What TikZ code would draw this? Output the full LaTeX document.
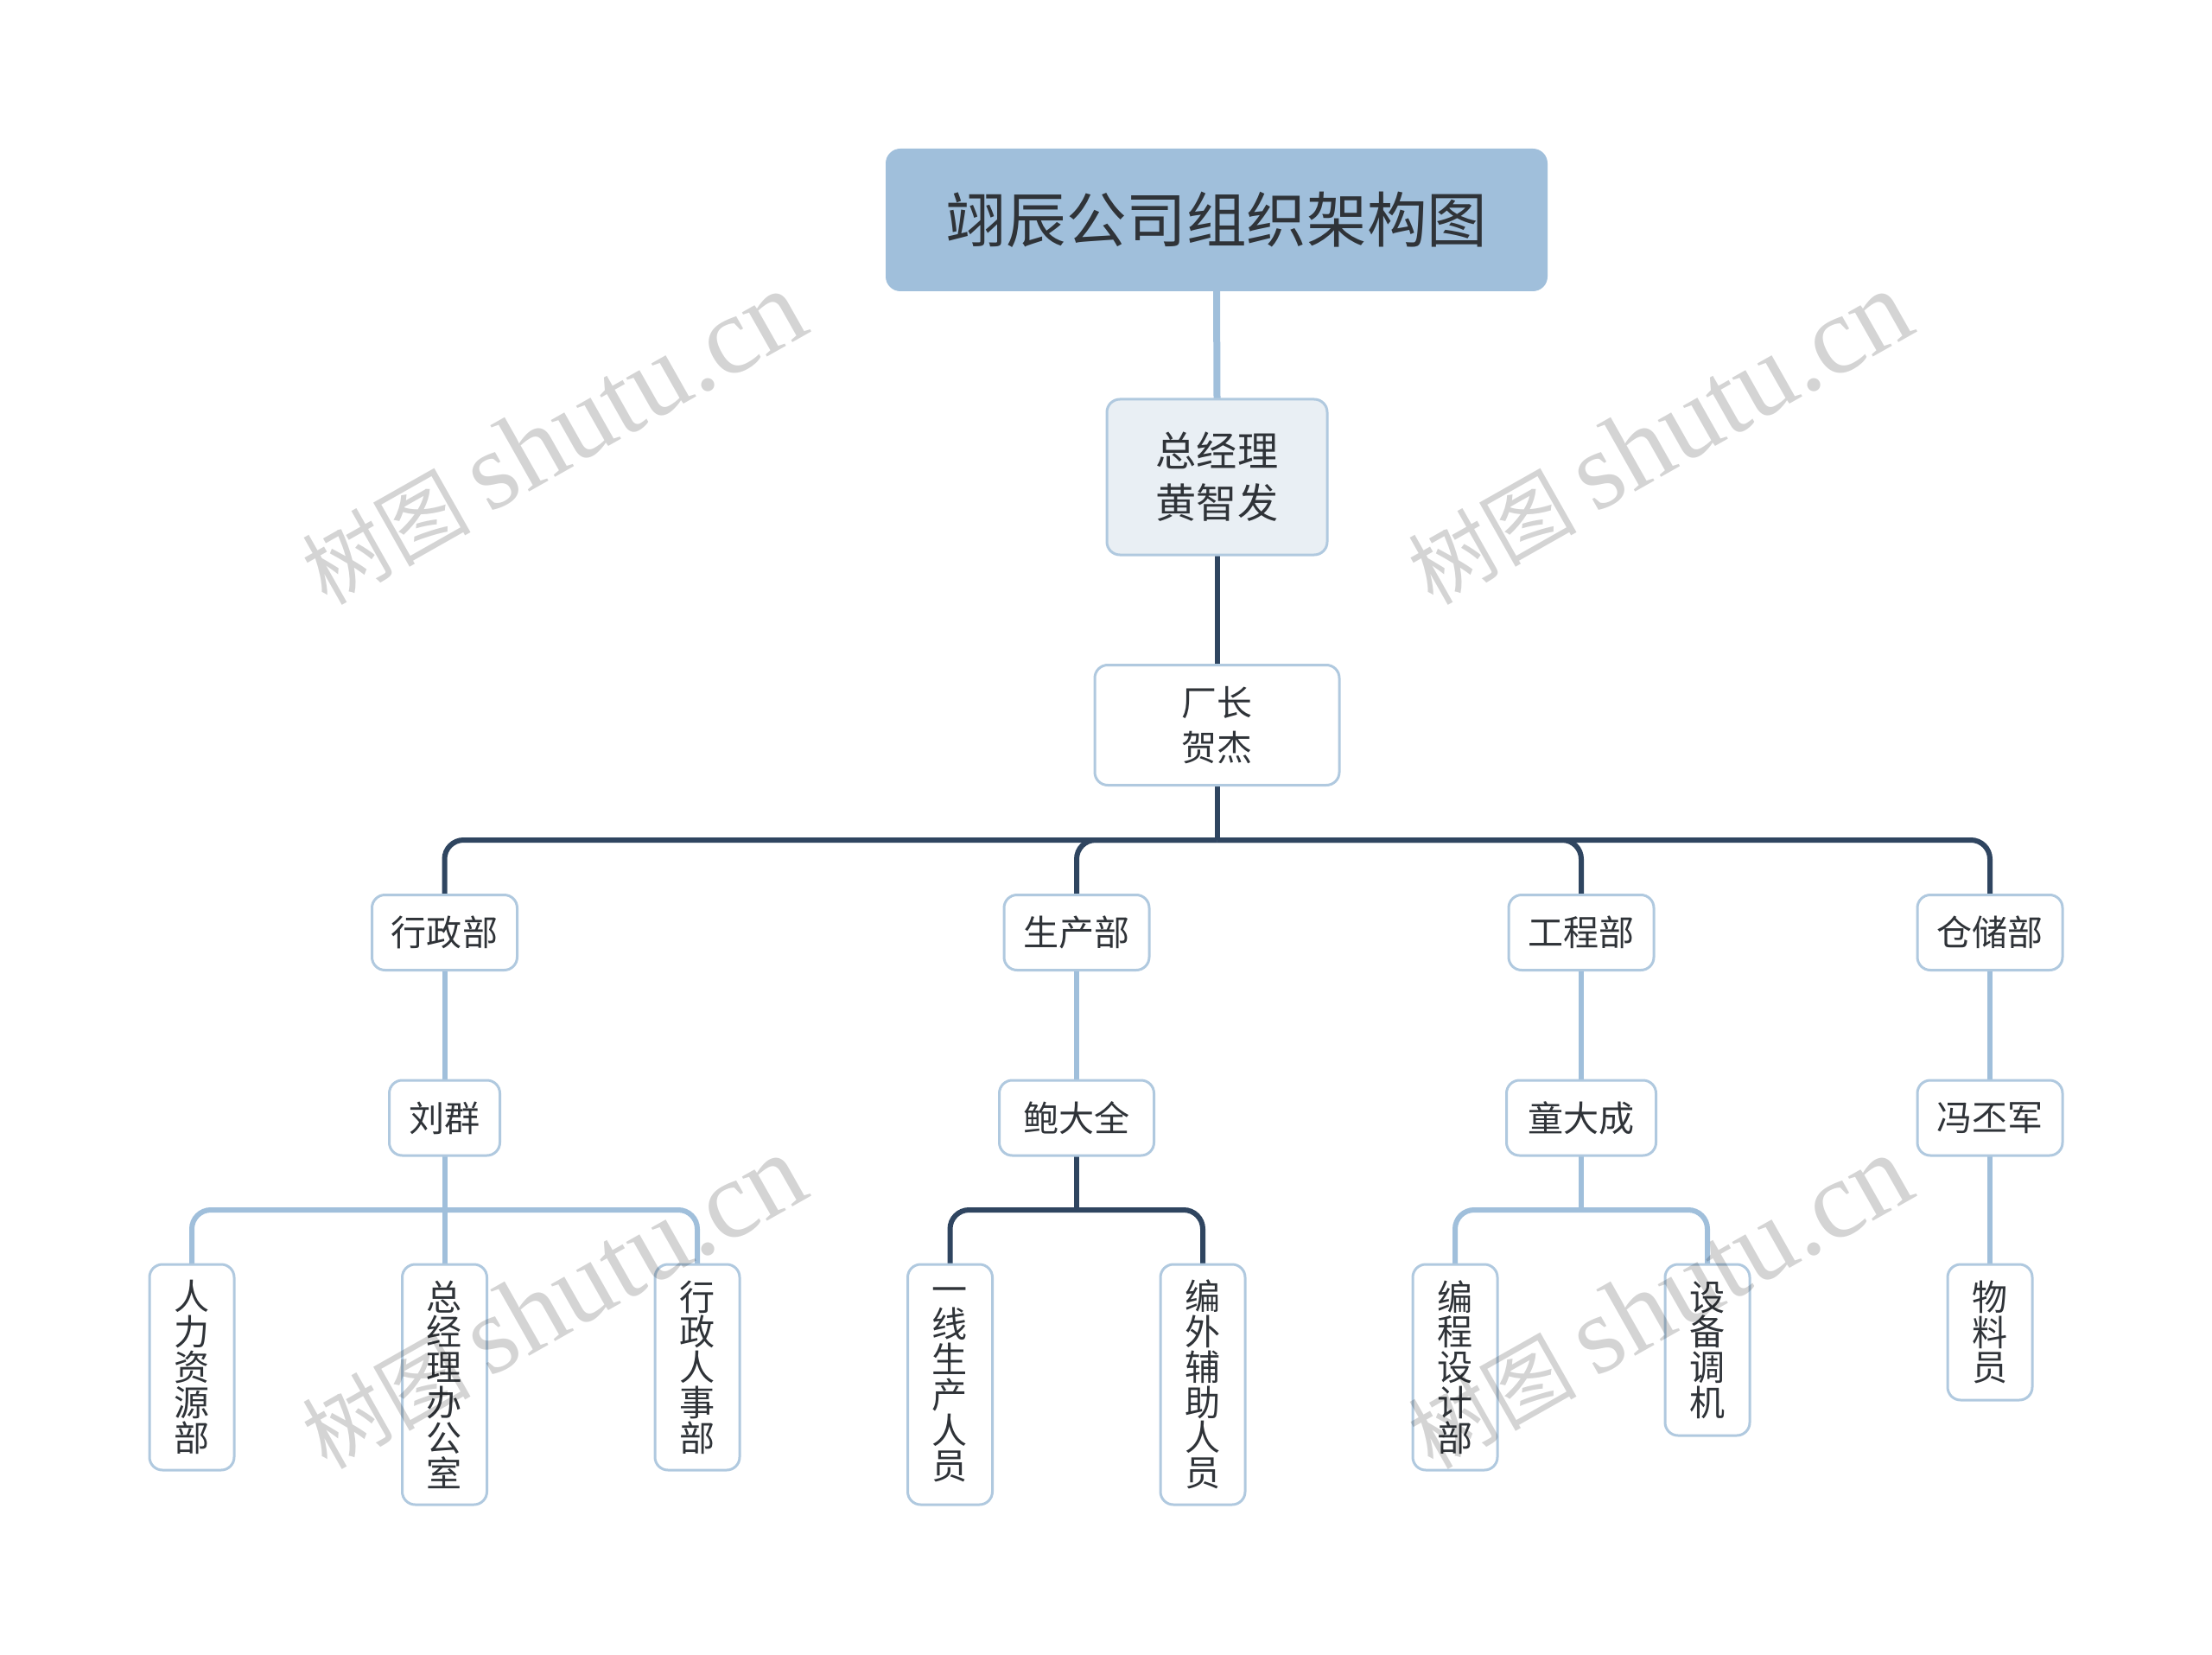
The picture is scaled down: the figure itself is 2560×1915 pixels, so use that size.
\documentclass[tikz,border=0pt]{standalone}
\usepackage{fontspec}
\usetikzlibrary{backgrounds}
\setmainfont{Noto Sans CJK SC}
\newfontfamily\wmlatin{Liberation Serif}
\newfontfamily\wmcjk{Noto Sans CJK SC}
\lineskiplimit=-1000pt
\def\px{0.75pt}
\newcommand{\wmtext}{\wmcjk\fontsize{73pt}{73pt}\selectfont 树图 \wmlatin\fontsize{96pt}{96pt}\selectfont shutu.cn}
\definecolor{inkc}{HTML}{2F3338}
\definecolor{lightc}{HTML}{A0BFDB}
\definecolor{darkc}{HTML}{2F4560}
\definecolor{edgec}{HTML}{B0C9DF}
\definecolor{palec}{HTML}{E9EFF4}
\tikzset{
  basebox/.style={draw=edgec,line width=3*\px,rounded corners=15*\px,fill=white,text=inkc,inner sep=0pt,outer sep=0pt,align=center},
  titlebox/.style={basebox,draw=none,fill=lightc,rounded corners=17*\px,minimum width=766*\px,minimum height=165*\px,font=\fontsize{52.2pt}{60pt}\selectfont},
  gmbox/.style={basebox,fill=palec,minimum width=255*\px,minimum height=180*\px,font=\fontsize{35.4pt}{45pt}\selectfont},
  fmbox/.style={basebox,minimum width=283*\px,minimum height=139*\px,font=\fontsize{30.7pt}{39pt}\selectfont},
  midbox/.style={basebox,minimum height=87*\px,font=\fontsize{30.8pt}{36pt}\selectfont},
  leafbox/.style={basebox,minimum width=98*\px,font=\fontsize{30.8pt}{30.6pt}\selectfont},
  lightline/.style={draw=lightc,line width=6*\px,rounded corners=22*\px},
  darkline/.style={draw=darkc,line width=6*\px,rounded corners=22*\px},
  wmark/.style={text=black,text opacity=0.17,rotate=29.5,inner sep=0pt}
}
\begin{document}
\begin{tikzpicture}[x=0.75pt,y=-0.75pt]
\useasboundingbox (0,0) rectangle (2560,1915);
\node[titlebox] (root) at (1408,254.5) {翊辰公司组织架构图};
\node[gmbox] (gm) at (1408.5,552) {总经理\\黄智发};
\node[fmbox] (fm) at (1408.5,839) {厂长\\贺杰};
\node[midbox,minimum width=168*\px] (dxz) at (514.5,1079) {行政部};
\node[midbox,minimum width=168*\px] (dsc) at (1246,1079) {生产部};
\node[midbox,minimum width=168*\px] (dgc) at (1830,1079) {工程部};
\node[midbox,minimum width=168*\px] (dcc) at (2303,1079) {仓储部};
\node[midbox,minimum width=128*\px] (mlq) at (514.5,1293.5) {刘群};
\node[midbox,minimum width=179*\px] (mbd) at (1246,1293.5) {鲍大全};
\node[midbox,minimum width=173*\px] (mtd) at (1830,1293.5) {童大成};
\node[midbox,minimum width=168*\px] (mfp) at (2303,1293.5) {冯丕军};
\node[leafbox,minimum height=238*\px] (l1) at (222,1582) {人\\力\\资\\源\\部};
\node[leafbox,minimum height=278*\px] (l2) at (514.5,1602) {总\\经\\理\\办\\公\\室};
\node[leafbox,minimum height=238*\px] (l3) at (807,1582) {行\\政\\人\\事\\部};
\node[leafbox,minimum height=278*\px] (l4) at (1099.5,1602) {一\\线\\生\\产\\人\\员};
\node[leafbox,minimum height=278*\px] (l5) at (1392,1602) {编\\外\\辅\\助\\人\\员};
\node[leafbox,minimum height=238*\px] (l6) at (1684,1582) {编\\程\\设\\计\\部};
\node[leafbox,minimum height=198*\px] (l7) at (1976,1562) {设\\备\\调\\机};
\node[leafbox,minimum height=157*\px] (l8) at (2303,1541.5) {物\\料\\员};
\coordinate (busf) at (1408.5,972);
\coordinate (bus1) at (514.5,1400);
\coordinate (bus2) at (1246,1400);
\coordinate (bus3) at (1830,1400);
\begin{pgfonlayer}{background}
\draw[lightline,line width=8*\px] (root.south) -- (gm.north);
\draw[darkline,line width=6*\px] (gm.south) -- (fm.north);
\draw[darkline] (fm.south) -- (busf);
\draw[darkline] (dxz.north) |- (busf);
\draw[darkline] (dsc.north) |- (busf);
\draw[darkline] (dgc.north) |- (busf);
\draw[darkline] (dcc.north) |- (busf);
\draw[lightline] (dxz.south) -- (mlq.north);
\draw[lightline] (dsc.south) -- (mbd.north);
\draw[lightline] (dgc.south) -- (mtd.north);
\draw[lightline] (dcc.south) -- (mfp.north);
\draw[lightline] (mlq.south) -- (l2.north);
\draw[lightline] (l1.north) |- (bus1);
\draw[lightline] (l3.north) |- (bus1);
\draw[darkline] (mbd.south) -- (bus2);
\draw[darkline] (l4.north) |- (bus2);
\draw[darkline] (l5.north) |- (bus2);
\draw[lightline] (mtd.south) -- (bus3);
\draw[lightline] (l6.north) |- (bus3);
\draw[lightline] (l7.north) |- (bus3);
\draw[lightline] (mfp.south) -- (l8.north);
\end{pgfonlayer}
\node[wmark] (w1) at (640,507) {\wmtext};
\node[wmark] (w2) at (1920,507) {\wmtext};
\node[wmark] (w3) at (640,1507) {\wmtext};
\node[wmark] (w4) at (1920,1507) {\wmtext};
\end{tikzpicture}
\end{document}
